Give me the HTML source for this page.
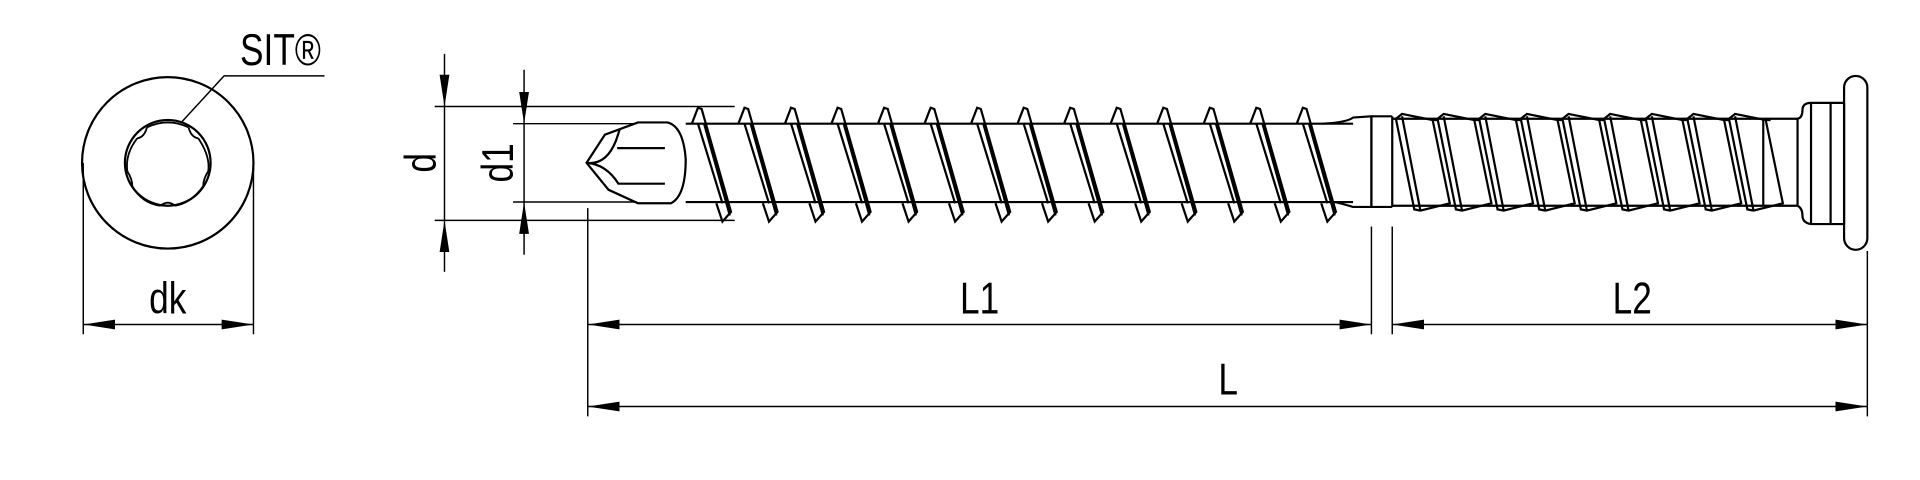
<!DOCTYPE html>
<html><head><meta charset="utf-8"><style>
html,body{margin:0;padding:0;background:#fff;width:1920px;height:480px;overflow:hidden}
svg{display:block}
text{font-family:"Liberation Sans",sans-serif;fill:#000}
</style></head><body>
<svg width="1920" height="480" viewBox="0 0 1568 392" xmlns="http://www.w3.org/2000/svg">
<defs>
<marker id="a" viewBox="0 0 26 8" refX="26" refY="4" markerWidth="26" markerHeight="8" markerUnits="userSpaceOnUse" orient="auto-start-reverse"><path d="M0,0 L26,4 L0,8 Z" fill="#000"/></marker>
</defs>
<g fill="none" stroke="#000" stroke-width="1.8">
<circle cx="137" cy="133" r="70"/>
<circle cx="137" cy="133" r="35"/>
<path d="M120,104 Q137,96 154,104 M162,113 Q172,128 170,140 M166,152 Q156,166 143,168 M131,168 Q116,166 108,152 M104,140 Q102,126 112,113" stroke-width="1.5"/>
<path d="M112,113 Q118,112 120,104 M154,104 Q156,112 162,113 M170,140 Q166,146 166,152 M143,168 Q137,163 131,168 M108,152 Q108,146 104,140" stroke-width="1.5"/>
<path d="M148,100 L183,62 L265,62" stroke-width="1.2"/>
<line x1="68" y1="133" x2="68" y2="273" stroke-width="1.2"/>
<line x1="207" y1="133" x2="207" y2="273" stroke-width="1.2"/>
<line x1="68" y1="265" x2="207" y2="265" stroke-width="1.2" marker-start="url(#a)" marker-end="url(#a)"/>
<line x1="363" y1="44" x2="363" y2="87" stroke-width="1.2" marker-end="url(#a)"/>
<line x1="363" y1="87" x2="363" y2="180" stroke-width="1.2"/>
<line x1="363" y1="222" x2="363" y2="180" stroke-width="1.2" marker-end="url(#a)"/>
<line x1="428" y1="57" x2="428" y2="101" stroke-width="1.2" marker-end="url(#a)"/>
<line x1="428" y1="101" x2="428" y2="165" stroke-width="1.2"/>
<line x1="428" y1="208" x2="428" y2="165" stroke-width="1.2" marker-end="url(#a)"/>
<line x1="355" y1="87" x2="600" y2="87" stroke-width="1.2"/>
<line x1="355" y1="180" x2="600" y2="180" stroke-width="1.2"/>
<line x1="419" y1="101" x2="520" y2="101" stroke-width="1.2"/>
<line x1="419" y1="165" x2="520" y2="165" stroke-width="1.2"/>
<path d="M479,133 L494,110 L521,100 L545,100 Q558,103 560,130 Q560,160 548,166 L521,166 L497,155 L479,133 Z"/>
<path d="M479,133 Q495,135 503,115 L506,106 M479,133 Q495,134 505,150 L520,150 M504,121 L543,121 M520,150 L543,150"/>
<line x1="560" y1="101" x2="1105" y2="101"/>
<line x1="560" y1="165" x2="1105" y2="165"/>
<g id="t1">
<path d="M565,101 L570,88 L573,89 L597,173 L590,181 L585,166 M570,101 L590,166 M575,101 L596,176"/>
</g>
<use href="#t1" x="38"/><use href="#t1" x="76"/><use href="#t1" x="114"/><use href="#t1" x="152"/>
<use href="#t1" x="190"/><use href="#t1" x="228"/><use href="#t1" x="266"/><use href="#t1" x="304"/>
<use href="#t1" x="342"/><use href="#t1" x="380"/><use href="#t1" x="418"/><use href="#t1" x="456"/>
<use href="#t1" x="494"/>
<path d="M1080,101 Q1100,100 1105,96 L1120,95 L1120,169 L1105,169 Q1095,166 1090,165"/>
<line x1="1120" y1="95" x2="1120" y2="169"/>
<line x1="1137" y1="95" x2="1137" y2="169"/>
<line x1="1120" y1="95" x2="1137" y2="95"/>
<line x1="1120" y1="169" x2="1137" y2="169"/>
<line x1="1137" y1="97" x2="1440" y2="97"/>
<line x1="1137" y1="168" x2="1440" y2="168"/>
<g id="t2">
<path d="M1140,97 L1145,93 L1170,98 L1184,166 L1160,172 L1155,171 Z M1145,95 L1160,172 M1170,98 L1174,98"/>
</g>
<use href="#t2" x="34"/><use href="#t2" x="68"/><use href="#t2" x="102"/><use href="#t2" x="136"/>
<use href="#t2" x="170"/><use href="#t2" x="204"/><use href="#t2" x="238"/><use href="#t2" x="272"/>
<line x1="1440" y1="97" x2="1440" y2="168"/>
<path d="M1440,97 L1468,97 Q1472,96 1472,90 Q1472,84 1479,84 L1506,84 M1440,168 L1468,168 Q1472,170 1472,176 Q1472,182 1479,183 L1506,183"/>
<line x1="1468" y1="97" x2="1468" y2="168"/>
<line x1="1479" y1="84" x2="1479" y2="183"/>
<line x1="1495" y1="84" x2="1495" y2="183"/>
<line x1="1506" y1="84" x2="1506" y2="183"/>
<rect x="1506" y="62" width="19" height="142" rx="9.5"/>
<line x1="480" y1="170" x2="480" y2="340" stroke-width="1.2"/>
<line x1="1120" y1="185" x2="1120" y2="273" stroke-width="1.2"/>
<line x1="1137" y1="185" x2="1137" y2="273" stroke-width="1.2"/>
<line x1="1525" y1="205" x2="1525" y2="340" stroke-width="1.2"/>
<line x1="480" y1="265" x2="1120" y2="265" stroke-width="1.2" marker-start="url(#a)" marker-end="url(#a)"/>
<line x1="1137" y1="265" x2="1525" y2="265" stroke-width="1.2" marker-start="url(#a)" marker-end="url(#a)"/>
<line x1="480" y1="332" x2="1525" y2="332" stroke-width="1.2" marker-start="url(#a)" marker-end="url(#a)"/>
</g>
<g font-size="36" text-anchor="middle">
<text transform="translate(229,53) scale(0.8,1)">SIT®</text>
<text transform="translate(137,256) scale(0.8,1)">dk</text>
<text transform="translate(800,256) scale(0.8,1)">L1</text>
<text transform="translate(1333,256) scale(0.8,1)">L2</text>
<text transform="translate(1003,322) scale(0.8,1)">L</text>
<text transform="translate(356,133) rotate(-90) scale(0.8,1)">d</text>
<text transform="translate(419,133) rotate(-90) scale(0.8,1)">d1</text>
</g>
</svg>
</body></html>
